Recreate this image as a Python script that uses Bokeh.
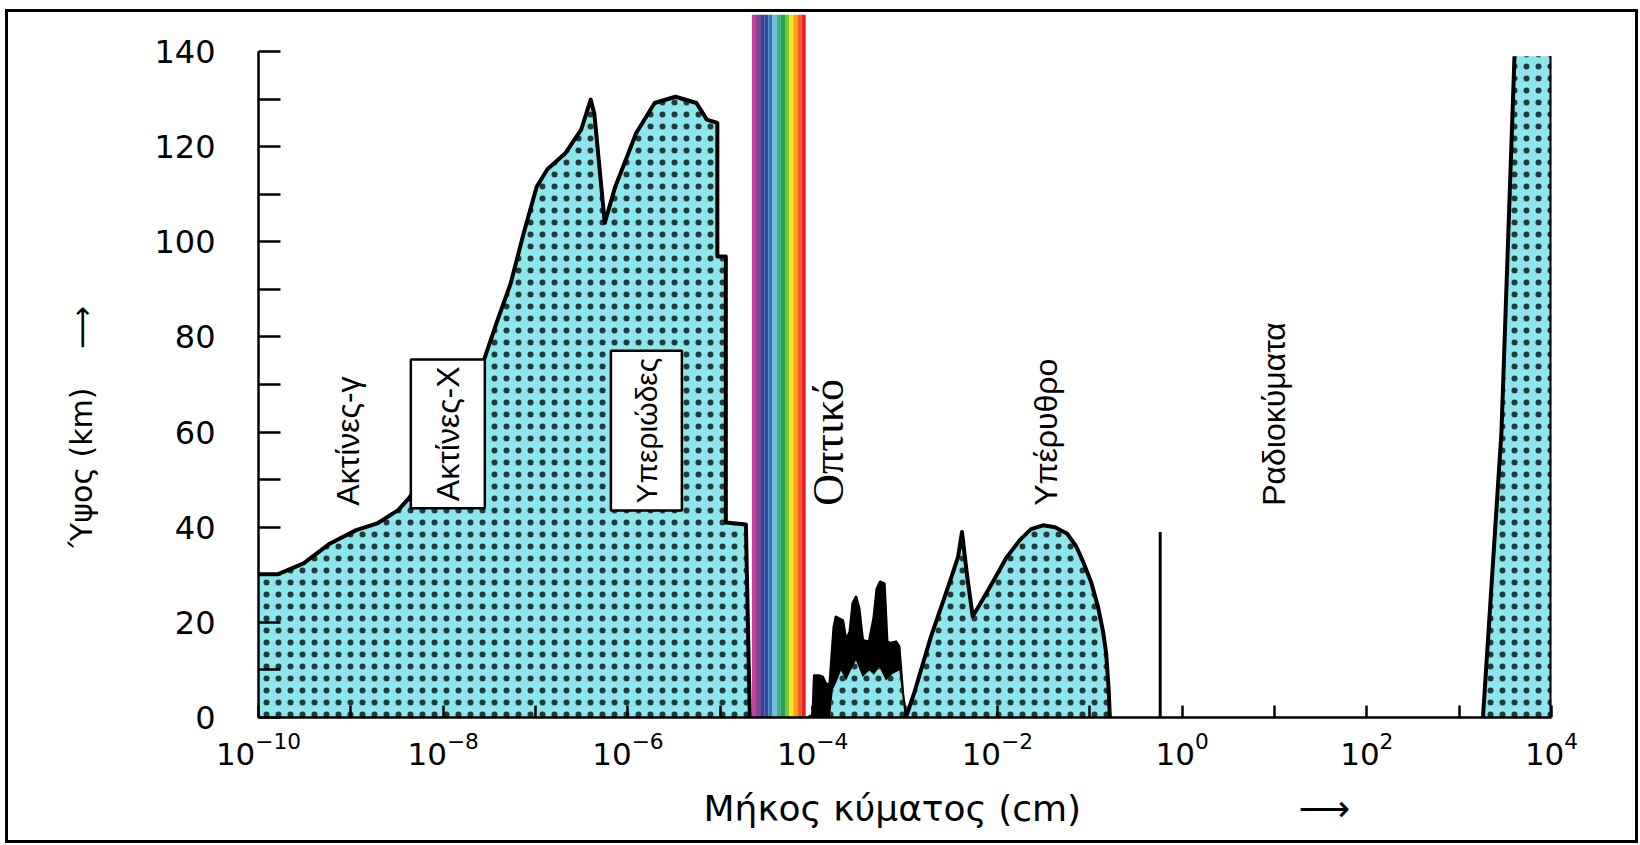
import numpy as np
from bokeh.plotting import figure
from bokeh.models import Range1d, FixedTicker, LogTickFormatter, Label, Title
from bokeh.embed import file_html
from bokeh.resources import INLINE

# ---------------- data (x as log10 of wavelength in cm, y in km) ----------------
# gamma / X-ray / UV absorption altitude
uv_log = [-10.0, -9.794, -9.512, -9.225, -8.942, -8.715, -8.488, -8.375, -8.320, -7.553,
          -7.411, -7.269, -7.129, -6.988, -6.874, -6.675, -6.506, -6.403, -6.364, -6.251,
          -6.137, -5.910, -5.711, -5.485, -5.258, -5.146, -5.032, -5.032, -4.940, -4.940,
          -4.723, -4.680]
uv_km = [30.1, 30.1, 32.4, 36.6, 39.4, 40.8, 43.6, 46.0, 47.5, 75.5,
         83.6, 91.3, 101.8, 111.6, 115.2, 118.7, 123.6, 129.9, 127.0, 104.0,
         111.6, 122.9, 129.2, 130.5, 129.2, 125.7, 125.0, 96.9, 96.9, 41.0,
         40.6, 0.0]

# near-IR absorption bands (spiky envelope)
band_log = [-4.055, -3.997, -3.981, -3.932, -3.892, -3.856, -3.813, -3.769, -3.747, -3.675,
            -3.639, -3.596, -3.564, -3.531, -3.499, -3.459, -3.387, -3.336, -3.304, -3.268,
            -3.225, -3.195, -3.152, -3.098, -3.065, -3.025, -2.990]
band_km = [0.0, 0.5, 8.8, 8.8, 8.5, 7.0, 7.0, 19.0, 21.1, 20.4,
           16.2, 18.0, 24.0, 25.3, 23.0, 16.2, 15.9, 21.0, 27.0, 28.5,
           28.1, 15.9, 15.6, 15.9, 14.9, 5.0, 0.0]
# near-IR continuum under the bands
win_log = [-3.813, -3.780, -3.747, -3.693, -3.639, -3.585, -3.531, -3.459, -3.387, -3.336,
           -3.279, -3.206, -3.133, -3.061, -3.032, -3.001]
win_km = [0.0, 6.0, 7.2, 9.9, 7.8, 10.0, 12.0, 8.5, 9.9, 9.0,
          10.6, 7.8, 9.2, 9.9, 5.0, 0.0]

# far-IR hump
ir_log = [-2.990, -2.903, -2.719, -2.534, -2.426, -2.383, -2.329, -2.267, -2.198, -2.040,
          -1.906, -1.757, -1.635, -1.505, -1.375, -1.247, -1.147, -1.077, -0.985, -0.909,
          -0.855, -0.822, -0.795, -0.782]
ir_km = [0.0, 5.0, 17.0, 27.4, 33.7, 39.0, 30.0, 21.3, 23.5, 28.8,
         33.5, 37.3, 39.6, 40.4, 40.0, 38.7, 36.0, 33.0, 28.5, 23.2,
         18.0, 13.5, 6.0, 0.0]

# narrow line near 1 cm
line_log = [-0.237, -0.237]
line_km = [0.0, 39.0]

# long radio waves (ionosphere)
radio_log = [3.258, 3.458, 3.599, 4.0]
radio_km = [0.0, 60.0, 139.0, 139.0]

# visible band
visible_log = [-4.658, -4.075]
visible_top_km = 147.8
rainbow_colors = ["#C4449B", "#8E3F96", "#3F3A94", "#2A4B9B", "#2F74B5", "#6BBFE0",
                  "#3DAE8C", "#25A547", "#7DC242", "#F5E617", "#F9A11B", "#F15A24", "#E8202A"]

# region labels
region_text = ["Ακτίνες-γ", "Ακτίνες-Χ", "Υπεριώδες", "Οπτικό", "Υπέρυθρο", "Ραδιοκύματα"]
region_log = [-9.03, -7.95, -5.80, -3.83, -1.47, 0.99]
region_km = [44.5, 44.0, 43.5, 44.5, 44.5, 44.5]
region_size = ["32px", "32px", "30px", "44px", "32px", "32px"]
region_boxed = [False, True, True, False, False, False]
region_serif = [False, False, False, True, False, False]

x_major = [-10, -8, -6, -4, -2, 0, 2, 4]
x_minor = [-9, -7, -5, -3, -1, 1, 3]
y_major = [0, 20, 40, 60, 80, 100, 120, 140]
y_minor = [10, 30, 50, 70, 90, 110, 130]

x_title = "Μήκος κύματος (cm)"
y_title = "Ύψος (km)"
NBSP = "\u00a0"

# ---------------- figure ----------------
CYAN = "#8DE6EB"
to_wl = lambda a: 10.0 ** np.asarray(a, dtype=float)

p = figure(width=1633, height=834, x_axis_type="log",
           x_range=Range1d(1e-10, 1e4), y_range=Range1d(0, visible_top_km),
           output_backend="svg", toolbar_location=None,
           min_border_left=250, min_border_right=90, min_border_top=2, min_border_bottom=128)
p.styles = {"border": "3px solid black", "margin-left": "5px", "margin-top": "9px"}
p.outline_line_color = None
p.xgrid.visible = False
p.ygrid.visible = False
p.background_fill_color = "white"
p.border_fill_color = "white"

hatch = dict(hatch_pattern=".", hatch_color="black", hatch_scale=12, hatch_weight=1.1, hatch_alpha=0.75)

# UV / X / gamma
p.varea(x=to_wl(uv_log), y1=0, y2=uv_km, fill_color=CYAN, **hatch)
p.line(to_wl(uv_log), uv_km, line_color="black", line_width=4, line_join="round")

# near IR bands
p.varea(x=to_wl(band_log), y1=0, y2=band_km, fill_color="black")
p.line(to_wl(band_log), band_km, line_color="black", line_width=3, line_join="round")
p.varea(x=to_wl(win_log), y1=0, y2=win_km, fill_color=CYAN, **hatch)

# far IR
p.varea(x=to_wl(ir_log), y1=0, y2=ir_km, fill_color=CYAN, **hatch)
p.line(to_wl(ir_log), ir_km, line_color="black", line_width=4, line_join="round")

# 1 cm line
p.line(to_wl(line_log), line_km, line_color="black", line_width=3)

# radio
p.varea(x=to_wl(radio_log), y1=0, y2=radio_km, fill_color=CYAN, **hatch)
p.line(to_wl(radio_log[:3]), radio_km[:3], line_color="black", line_width=4)
p.line(to_wl([radio_log[-1], radio_log[-1]]), [0, radio_km[-1]], line_color="black", line_width=4)

# visible rainbow band
edges = np.linspace(visible_log[0], visible_log[1], len(rainbow_colors) + 1)
p.quad(left=to_wl(edges[:-1]), right=to_wl(edges[1:]), bottom=0, top=visible_top_km,
       fill_color=rainbow_colors, line_color=None)

# region labels
for t, lx, ky, fs, boxed, serif in zip(region_text, region_log, region_km, region_size,
                                        region_boxed, region_serif):
    kw = dict(x=10 ** lx, y=ky, text=t, angle=90, angle_units="deg",
              text_align="left", text_baseline="middle", text_color="black",
              text_font="Liberation Serif" if serif else "Liberation Sans",
              text_font_size=fs)
    if boxed:
        kw.update(background_fill_color="white", border_line_color="black",
                  border_line_width=2.5, padding=(7, 19))
    p.add_layout(Label(**kw))

# axis titles (with their arrows) in the side panels
p.add_layout(Title(text=x_title + NBSP * 19 + "⟶", align="left", offset=445, standoff=36,
                   text_font="DejaVu Sans", text_font_size="36px", text_font_style="normal",
                   text_color="black"), "below")
p.add_layout(Title(text=y_title + " " + NBSP * 3 + "⟶", align="left", offset=170, standoff=106,
                   text_font="DejaVu Sans", text_font_size="30px", text_font_style="normal",
                   text_color="black"), "left")

# axes
xa = p.xaxis[0]
xa.ticker = FixedTicker(ticks=[10.0 ** e for e in x_major], minor_ticks=[10.0 ** e for e in x_minor])
xa.formatter = LogTickFormatter()
xa.major_tick_in = 12
xa.major_tick_out = 0
xa.minor_tick_in = 12
xa.minor_tick_out = 0
xa.axis_line_width = 2.5
xa.major_tick_line_width = 2.5
xa.minor_tick_line_width = 2.5
xa.major_label_text_font = "DejaVu Sans"
xa.major_label_text_font_size = "31px"
xa.major_label_text_color = "black"
xa.major_label_standoff = 14

ya = p.yaxis[0]
ya.ticker = FixedTicker(ticks=y_major, minor_ticks=y_minor)
ya.bounds = (0, 140)
ya.major_tick_in = 22
ya.major_tick_out = 0
ya.minor_tick_in = 22
ya.minor_tick_out = 0
ya.axis_line_width = 2.5
ya.major_tick_line_width = 2.5
ya.minor_tick_line_width = 2.5
ya.major_label_text_font = "DejaVu Sans"
ya.major_label_text_font_size = "32px"
ya.major_label_text_color = "black"
ya.major_label_standoff = 43

open("out.html", "w").write(file_html(p, INLINE))
